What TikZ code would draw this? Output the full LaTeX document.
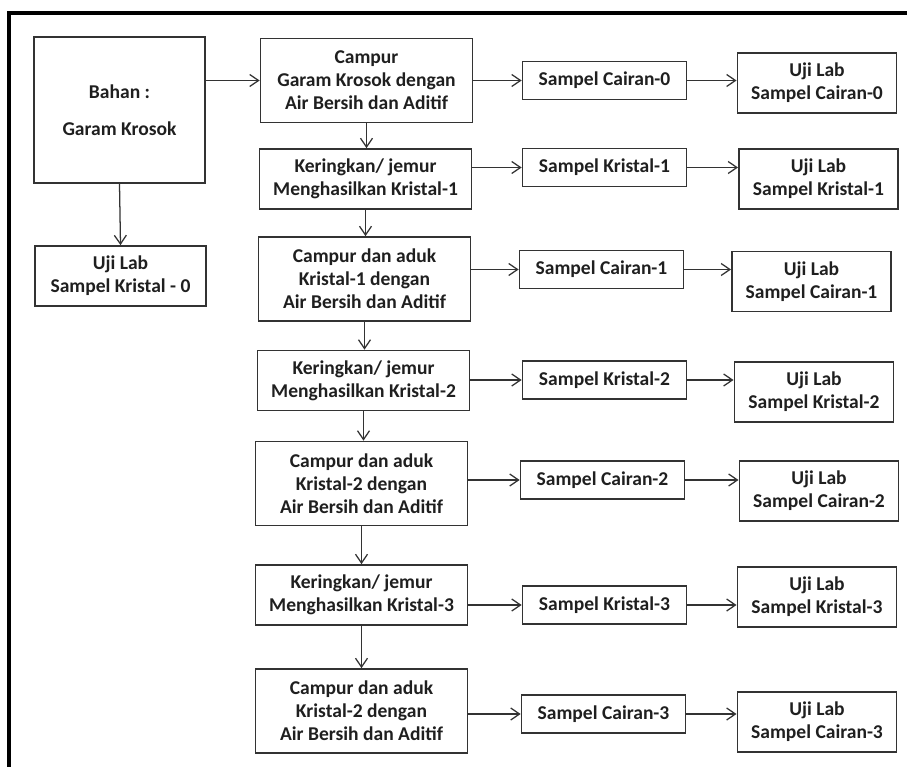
\documentclass[tikz,border=0pt]{standalone}
\usepackage{fontspec}
\setmainfont{Carlito}
\usetikzlibrary{arrows.meta}

\begin{document}
\begin{tikzpicture}[
    x=0.025cm, y=-0.025cm,
    font=\fontsize{13.9}{16.4}\selectfont\bfseries,
    text=black!88,
    box/.style={
        draw=black!80,
        line width=1.2pt,
        align=center,
        inner sep=2pt
    },
    source/.style={box, minimum width=4.275cm, minimum height=3.65cm},
    labzero/.style={box, minimum width=4.275cm, minimum height=1.5cm},
    mix/.style={box, minimum width=5.3cm, minimum height=2.1cm},
    dry/.style={box, minimum width=5.3cm, minimum height=1.5cm},
    sample/.style={box, minimum width=4.1cm, minimum height=0.95cm},
    lab/.style={box, minimum width=3.98cm, minimum height=1.5cm},
    arr/.style={-{Straight Barb[length=2.2mm,width=3mm]}, line width=0.9pt, draw=black!80},
    frame/.style={line width=2.2pt, draw=black}
]
\useasboundingbox (0,0) rectangle (907,767);
\draw[frame] (9,767) -- (9,13) -- (907,13);

\node[source] (bahan) at (119.5,110)
{Bahan :\\[0.35cm] Garam Krosok};

\node[labzero] (uji0) at (120.5,276)
{Uji Lab\\ Sampel Kristal - 0};

\node[mix] (mix0) at (366.5,80.5)
{Campur\\ Garam Krosok dengan\\ Air Bersih dan Aditif};

\node[dry] (dry1) at (365.5,179)
{Keringkan/ jemur\\ Menghasilkan Kristal-1};

\node[mix] (mix1) at (364.5,279)
{Campur dan aduk\\ Kristal-1 dengan\\ Air Bersih dan Aditif};

\node[dry] (dry2) at (363.5,380.5)
{Keringkan/ jemur\\ Menghasilkan Kristal-2};

\node[mix] (mix2) at (361.5,483.5)
{Campur dan aduk\\ Kristal-2 dengan\\ Air Bersih dan Aditif};

\node[dry] (dry3) at (361.5,595)
{Keringkan/ jemur\\ Menghasilkan Kristal-3};

\node[mix] (mix3) at (361.5,711)
{Campur dan aduk\\ Kristal-2 dengan\\ Air Bersih dan Aditif};

\node[sample] (sc0) at (604.5,80.5) {Sampel Cairan-0};
\node[sample] (sk1) at (604.5,167.5) {Sampel Kristal-1};
\node[sample] (sc1) at (601.5,269.5) {Sampel Cairan-1};
\node[sample] (sk2) at (604.5,380) {Sampel Kristal-2};
\node[sample] (sc2) at (602.5,480) {Sampel Cairan-2};
\node[sample] (sk3) at (604.5,605) {Sampel Kristal-3};
\node[sample] (sc3) at (603.5,714) {Sampel Cairan-3};

\node[lab] (lc0) at (817,83) {Uji Lab\\ Sampel Cairan-0};
\node[lab] (lk1) at (818.5,179) {Uji Lab\\ Sampel Kristal-1};
\node[lab] (lc1) at (811.5,281.5) {Uji Lab\\ Sampel Cairan-1};
\node[lab] (lk2) at (814,392) {Uji Lab\\ Sampel Kristal-2};
\node[lab] (lc2) at (819,491) {Uji Lab\\ Sampel Cairan-2};
\node[lab] (lk3) at (817,597) {Uji Lab\\ Sampel Kristal-3};
\node[lab] (lc3) at (817,722) {Uji Lab\\ Sampel Cairan-3};

\draw[arr] (bahan.east |- mix0.west) -- (mix0.west);
\draw[arr] (bahan.south) -- (uji0.north);

\draw[arr] (mix0.south) -- (mix0.south |- dry1.north);
\draw[arr] (dry1.south) -- (dry1.south |- mix1.north);
\draw[arr] (mix1.south) -- (mix1.south |- dry2.north);
\draw[arr] (dry2.south) -- (dry2.south |- mix2.north);
\draw[arr] (mix2.south) -- (mix2.south |- dry3.north);
\draw[arr] (dry3.south) -- (dry3.south |- mix3.north);

\draw[arr] (sc0.west -| mix0.east) -- (sc0.west);
\draw[arr] (sk1.west -| dry1.east) -- (sk1.west);
\draw[arr] (sc1.west -| mix1.east) -- (sc1.west);
\draw[arr] (sk2.west -| dry2.east) -- (sk2.west);
\draw[arr] (sc2.west -| mix2.east) -- (sc2.west);
\draw[arr] (sk3.west -| dry3.east) -- (sk3.west);
\draw[arr] (sc3.west -| mix3.east) -- (sc3.west);

\draw[arr] (sc0.east) -- (sc0.east -| lc0.west);
\draw[arr] (sk1.east) -- (sk1.east -| lk1.west);
\draw[arr] (sc1.east) -- (sc1.east -| lc1.west);
\draw[arr] (sk2.east) -- (sk2.east -| lk2.west);
\draw[arr] (sc2.east) -- (sc2.east -| lc2.west);
\draw[arr] (sk3.east) -- (sk3.east -| lk3.west);
\draw[arr] (sc3.east) -- (sc3.east -| lc3.west);

\end{tikzpicture}
\end{document}
